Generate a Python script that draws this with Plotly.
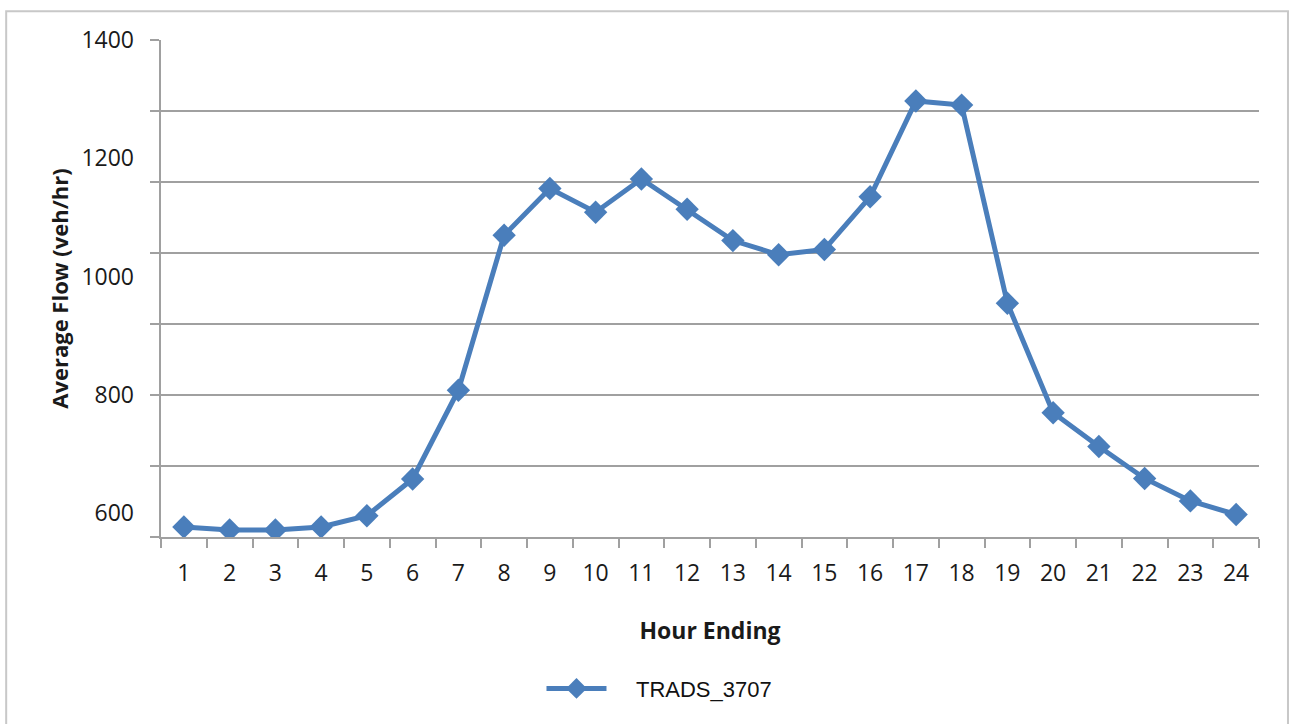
import plotly.graph_objects as go

hours = [str(h) for h in range(1, 25)]
flow = [577, 572, 572, 577, 596, 658, 808, 1070, 1149, 1109, 1165, 1114,
        1061, 1037, 1046, 1135, 1297, 1290, 955, 770, 713, 659, 621, 598]
series_name = "TRADS_3707"

y_min, y_max = 560, 1400
grid_step = 120
grid_vals = list(range(y_min, y_max + 1, grid_step))
label_vals = [600, 800, 1000, 1200, 1400]
label_text = [str(v) for v in label_vals]

blue = "#4A7EBB"
grey = "#A0A0A0"
font_main = "Open Sans"
pad = "\u00a0" * 4

fig = go.Figure()
fig.add_trace(go.Scatter(
    x=hours, y=flow, name=pad + series_name, mode="lines+markers",
    line=dict(color=blue, width=5),
    marker=dict(symbol="diamond", size=18, color=blue),
))
# helper trace to carry the labelled overlay axis
fig.add_trace(go.Scatter(x=[hours[0]], y=[None], yaxis="y2", showlegend=False,
                         hoverinfo="skip", mode="markers"))

fig.update_layout(
    width=1291, height=724,
    margin=dict(l=161, r=32, t=40, b=187),
    paper_bgcolor="white", plot_bgcolor="white",
    font=dict(family=font_main, size=23, color="#1a1a1a"),
    showlegend=True,
    legend=dict(orientation="h", x=0.454, xanchor="center", y=-0.305, yanchor="middle",
                font=dict(family="Liberation Sans, Arial", size=22, color="#111"),
                itemwidth=60),
    xaxis=dict(
        type="category", range=[-0.5, len(hours) - 0.5],
        tickson="boundaries", ticks="outside", ticklen=9,
        tickcolor=grey, tickwidth=2, showline=True, linecolor=grey, linewidth=2,
        showgrid=False, zeroline=False, ticklabelstandoff=14,
        tickfont=dict(size=23, color="#1a1a1a"),
        title=dict(text="<b>Hour Ending</b>", font=dict(size=23, color="#1a1a1a"), standoff=36),
    ),
    yaxis=dict(
        range=[y_min, y_max], tickmode="array", tickvals=grid_vals,
        showticklabels=False, ticks="outside", ticklen=9, tickcolor=grey, tickwidth=2,
        showgrid=True, gridcolor=grey, gridwidth=2, zeroline=False,
        showline=True, linecolor=grey, linewidth=2,
    ),
    yaxis2=dict(
        overlaying="y", side="left", range=[y_min, y_max], tickmode="array",
        tickvals=label_vals, ticktext=label_text, ticks="", showgrid=False,
        zeroline=False, showline=False, ticklabelstandoff=26,
        tickfont=dict(size=23, color="#1a1a1a"),
        title=dict(text="<b>Average Flow (veh/hr)</b>", font=dict(size=22, color="#1a1a1a"), standoff=6),
    ),
    shapes=[dict(type="rect", xref="paper", yref="paper",
                 x0=-0.141, x1=1.0264, y0=-0.40, y1=1.058,
                 line=dict(color="#C8C8C8", width=2), fillcolor="rgba(0,0,0,0)", layer="below")],
)

fig.write_html("out.html", config={"displayModeBar": False},
               post_script="document.body.style.margin='0';document.body.style.padding='0';")
